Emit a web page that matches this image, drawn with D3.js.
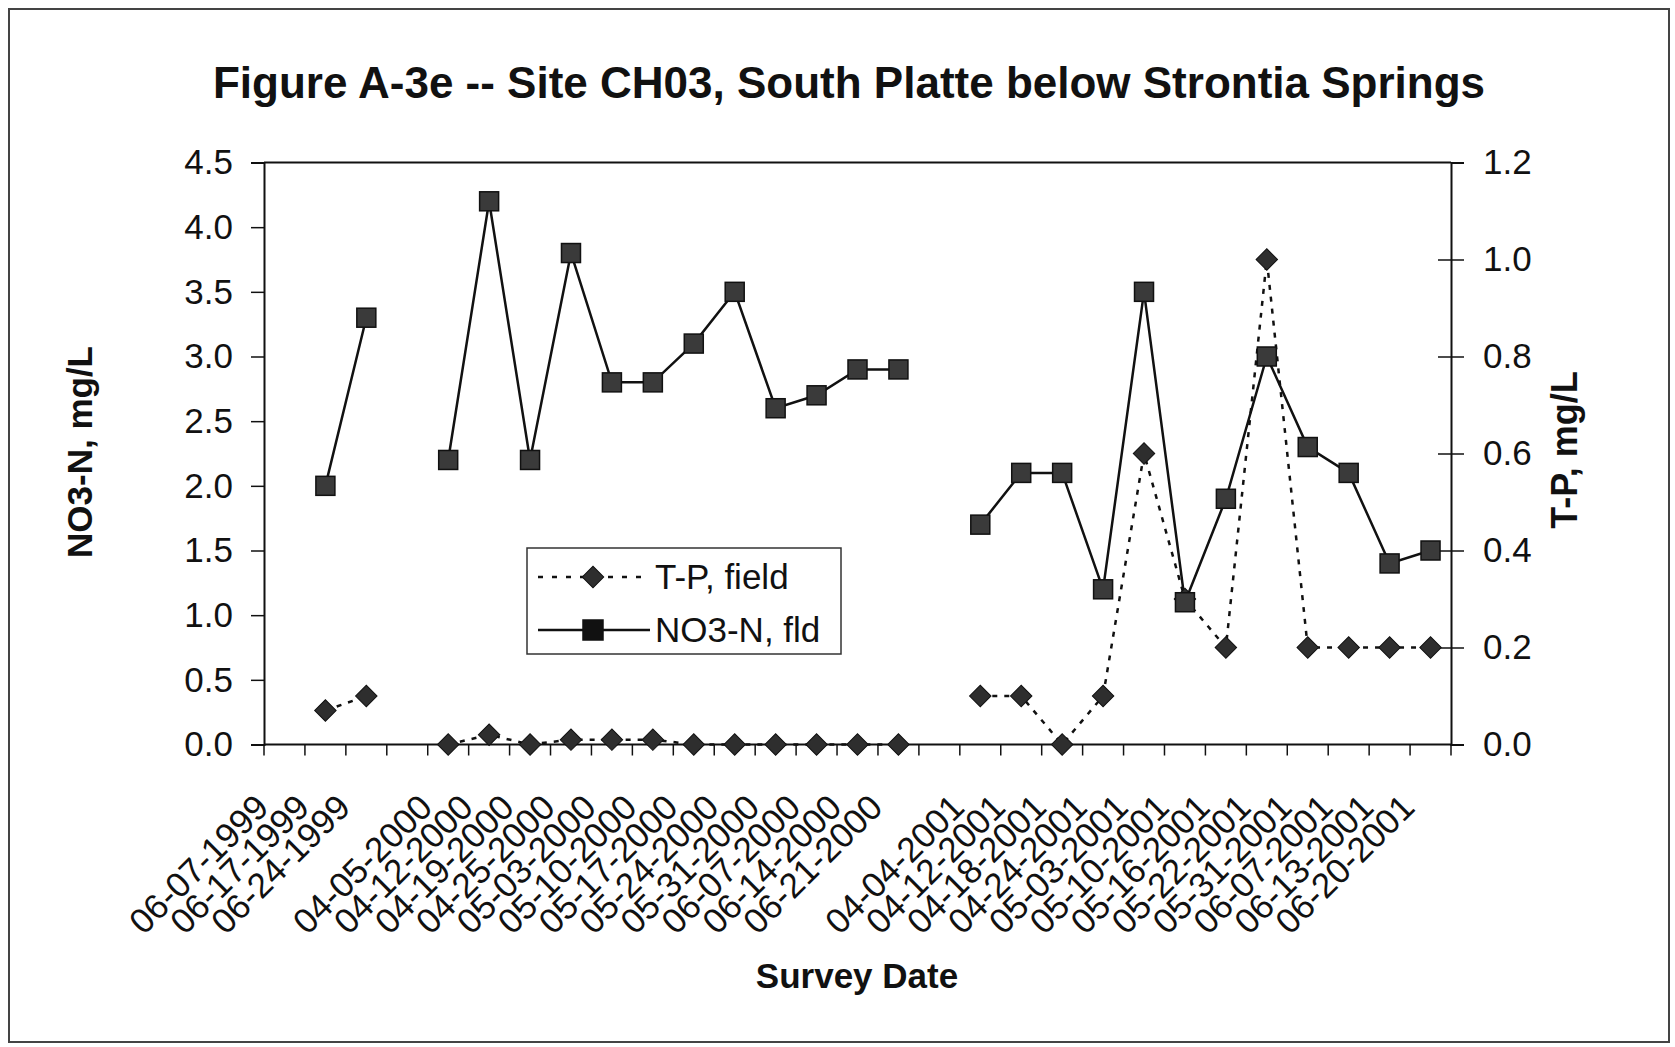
<!DOCTYPE html>
<html>
<head>
<meta charset="utf-8">
<script src="https://cdn.jsdelivr.net/npm/d3@7"></script>
<style>
  html, body { margin: 0; padding: 0; background: #fff; }
  svg { display: block; }
  text { font-family: "Liberation Sans", Arial, sans-serif; fill: #111; }
</style>
</head>
<body>
<svg id="chart" width="1675" height="1047"></svg>
<script>
// ---- data ----
const categories = [
  "06-07-1999", "06-17-1999", "06-24-1999", "",
  "04-05-2000", "04-12-2000", "04-19-2000", "04-25-2000", "05-03-2000", "05-10-2000",
  "05-17-2000", "05-24-2000", "05-31-2000", "06-07-2000", "06-14-2000", "06-21-2000", "",
  "04-04-2001", "04-12-2001", "04-18-2001", "04-24-2001", "05-03-2001", "05-10-2001",
  "05-16-2001", "05-22-2001", "05-31-2001", "06-07-2001", "06-13-2001", "06-20-2001"
];
const tpField = [
  null, 0.07, 0.10, null,
  0.00, 0.02, 0.00, 0.01, 0.01, 0.01, 0.00, 0.00, 0.00, 0.00, 0.00, 0.00, null,
  0.10, 0.10, 0.00, 0.10, 0.60, 0.30, 0.20, 1.00, 0.20, 0.20, 0.20, 0.20
];
const no3Fld = [
  null, 2.0, 3.3, null,
  2.2, 4.2, 2.2, 3.8, 2.8, 2.8, 3.1, 3.5, 2.6, 2.7, 2.9, 2.9, null,
  1.7, 2.1, 2.1, 1.2, 3.5, 1.1, 1.9, 3.0, 2.3, 2.1, 1.4, 1.5
];
const leftTicks = [0, 0.5, 1.0, 1.5, 2.0, 2.5, 3.0, 3.5, 4.0, 4.5];
const rightTicks = [0, 0.2, 0.4, 0.6, 0.8, 1.0, 1.2];
const seriesNames = ["T-P, field", "NO3-N, fld"];
const titleText = "Figure A-3e -- Site CH03, South Platte below Strontia Springs";
const leftTitle = "NO3-N, mg/L";
const rightTitle = "T-P, mg/L";
const xTitle = "Survey Date";

// ---- layout ----
const svg = d3.select("#chart");
const plot = { left: 264, right: 1451, top: 162.5, bottom: 744.5 };

const x = d3.scaleBand().domain(d3.range(categories.length)).range([plot.left, plot.right]).padding(0);
const yL = d3.scaleLinear().domain([0, 4.5]).range([plot.bottom, plot.top]);
const yR = d3.scaleLinear().domain([0, 1.2]).range([plot.bottom, plot.top]);
const cx = i => x(i) + x.bandwidth() / 2;

// outer frame
svg.append("rect").attr("x", 9).attr("y", 9).attr("width", 1660).attr("height", 1033)
  .attr("fill", "none").attr("stroke", "#444").attr("stroke-width", 2);

// title
svg.append("text").attr("x", 849).attr("y", 98).attr("text-anchor", "middle")
  .attr("font-size", 44).attr("font-weight", "bold").text(titleText);

// plot frame (top line)
svg.append("line").attr("x1", plot.left).attr("x2", plot.right).attr("y1", plot.top).attr("y2", plot.top)
  .attr("stroke", "#111").attr("stroke-width", 2);

// left axis
const gL = svg.append("g").attr("transform", `translate(${plot.left},0)`)
  .call(d3.axisLeft(yL).tickValues(leftTicks).tickFormat(d3.format(".1f")).tickSize(13).tickPadding(18));
gL.selectAll("text").attr("font-size", 35).style("font-family", "Liberation Sans, Arial, sans-serif").attr("fill", "#111");

// right axis
const gR = svg.append("g").attr("transform", `translate(${plot.right},0)`)
  .call(d3.axisRight(yR).tickValues(rightTicks).tickFormat(d3.format(".1f")).tickSize(13).tickPadding(19));
gR.selectAll("text").attr("font-size", 35).style("font-family", "Liberation Sans, Arial, sans-serif").attr("fill", "#111");
// crossing ticks on right axis
gR.selectAll(".tick line").attr("x1", d => (d === 0 || d === 1.2) ? 0 : -13);

// bottom axis
const gB = svg.append("g").attr("transform", `translate(0,${plot.bottom})`);
gB.append("line").attr("x1", plot.left).attr("x2", plot.right).attr("stroke", "#111").attr("stroke-width", 2);
gB.selectAll("line.tk").data(d3.range(categories.length + 1)).enter().append("line")
  .attr("class", "tk")
  .attr("x1", i => plot.left + i * x.bandwidth()).attr("x2", i => plot.left + i * x.bandwidth())
  .attr("y1", 0).attr("y2", 11).attr("stroke", "#111").attr("stroke-width", 1.5);
gB.selectAll("text.lbl").data(categories).enter().append("text")
  .attr("class", "lbl")
  .attr("text-anchor", "end").attr("font-size", 35)
  .attr("transform", (d, i) => `translate(${cx(i) - 14},${65}) rotate(-45)`)
  .text(d => d);

[gL, gR].forEach(g => {
  g.select(".domain").attr("stroke", "#111").attr("stroke-width", 2);
  g.selectAll(".tick line").attr("stroke", "#111").attr("stroke-width", 1.5);
});

// axis titles
svg.append("text").attr("transform", "translate(92,452) rotate(-90)").attr("text-anchor", "middle")
  .attr("font-size", 35).attr("font-weight", "bold").text(leftTitle);
svg.append("text").attr("transform", "translate(1577,450) rotate(-90)").attr("text-anchor", "middle")
  .attr("font-size", 36).attr("font-weight", "bold").text(rightTitle);
svg.append("text").attr("x", 857).attr("y", 988).attr("text-anchor", "middle")
  .attr("font-size", 35).attr("font-weight", "bold").text(xTitle);

// series
const tpLine = d3.line().defined(d => d.v !== null).x(d => cx(d.i)).y(d => yR(d.v));
const no3Line = d3.line().defined(d => d.v !== null).x(d => cx(d.i)).y(d => yL(d.v));
const tpData = tpField.map((v, i) => ({ i, v }));
const no3Data = no3Fld.map((v, i) => ({ i, v }));

svg.append("path").datum(tpData).attr("d", tpLine).attr("fill", "none")
  .attr("stroke", "#111").attr("stroke-width", 2.5).attr("stroke-dasharray", "5,7");
svg.append("path").datum(no3Data).attr("d", no3Line).attr("fill", "none")
  .attr("stroke", "#111").attr("stroke-width", 2.5);

const diamond = d3.symbol().type(d3.symbolSquare).size(230);
function drawDiamond(sel) {
  sel.attr("d", diamond).attr("fill", "#2e2e2e").attr("stroke", "#111").attr("stroke-width", 1);
}
svg.selectAll("path.tp").data(tpData.filter(d => d.v !== null)).enter().append("path")
  .attr("class", "tp")
  .attr("transform", d => `translate(${cx(d.i)},${yR(d.v)}) rotate(45)`)
  .call(drawDiamond);
svg.selectAll("rect.no3").data(no3Data.filter(d => d.v !== null)).enter().append("rect")
  .attr("class", "no3")
  .attr("x", d => cx(d.i) - 9.5).attr("y", d => yL(d.v) - 9.5).attr("width", 19).attr("height", 19)
  .attr("fill", "#3a3a3a").attr("stroke", "#111").attr("stroke-width", 1.5);

// legend
const lg = svg.append("g");
lg.append("rect").attr("x", 527).attr("y", 548).attr("width", 314).attr("height", 106)
  .attr("fill", "#fff").attr("stroke", "#333").attr("stroke-width", 1.5);
const rows = [577, 630];
lg.append("line").attr("x1", 538).attr("x2", 650).attr("y1", rows[0]).attr("y2", rows[0])
  .attr("stroke", "#111").attr("stroke-width", 2.5).attr("stroke-dasharray", "5,9");
lg.append("path").attr("transform", `translate(593,${rows[0]}) rotate(45)`).call(drawDiamond);
lg.append("line").attr("x1", 538).attr("x2", 650).attr("y1", rows[1]).attr("y2", rows[1])
  .attr("stroke", "#111").attr("stroke-width", 2.5);
lg.append("rect").attr("x", 583).attr("y", rows[1] - 10).attr("width", 20).attr("height", 20)
  .attr("fill", "#111").attr("stroke", "#111").attr("stroke-width", 1.5);
seriesNames.forEach((n, k) => {
  lg.append("text").attr("x", 655).attr("y", rows[k] + 12).attr("font-size", 35).text(n);
});
</script>
</body>
</html>
